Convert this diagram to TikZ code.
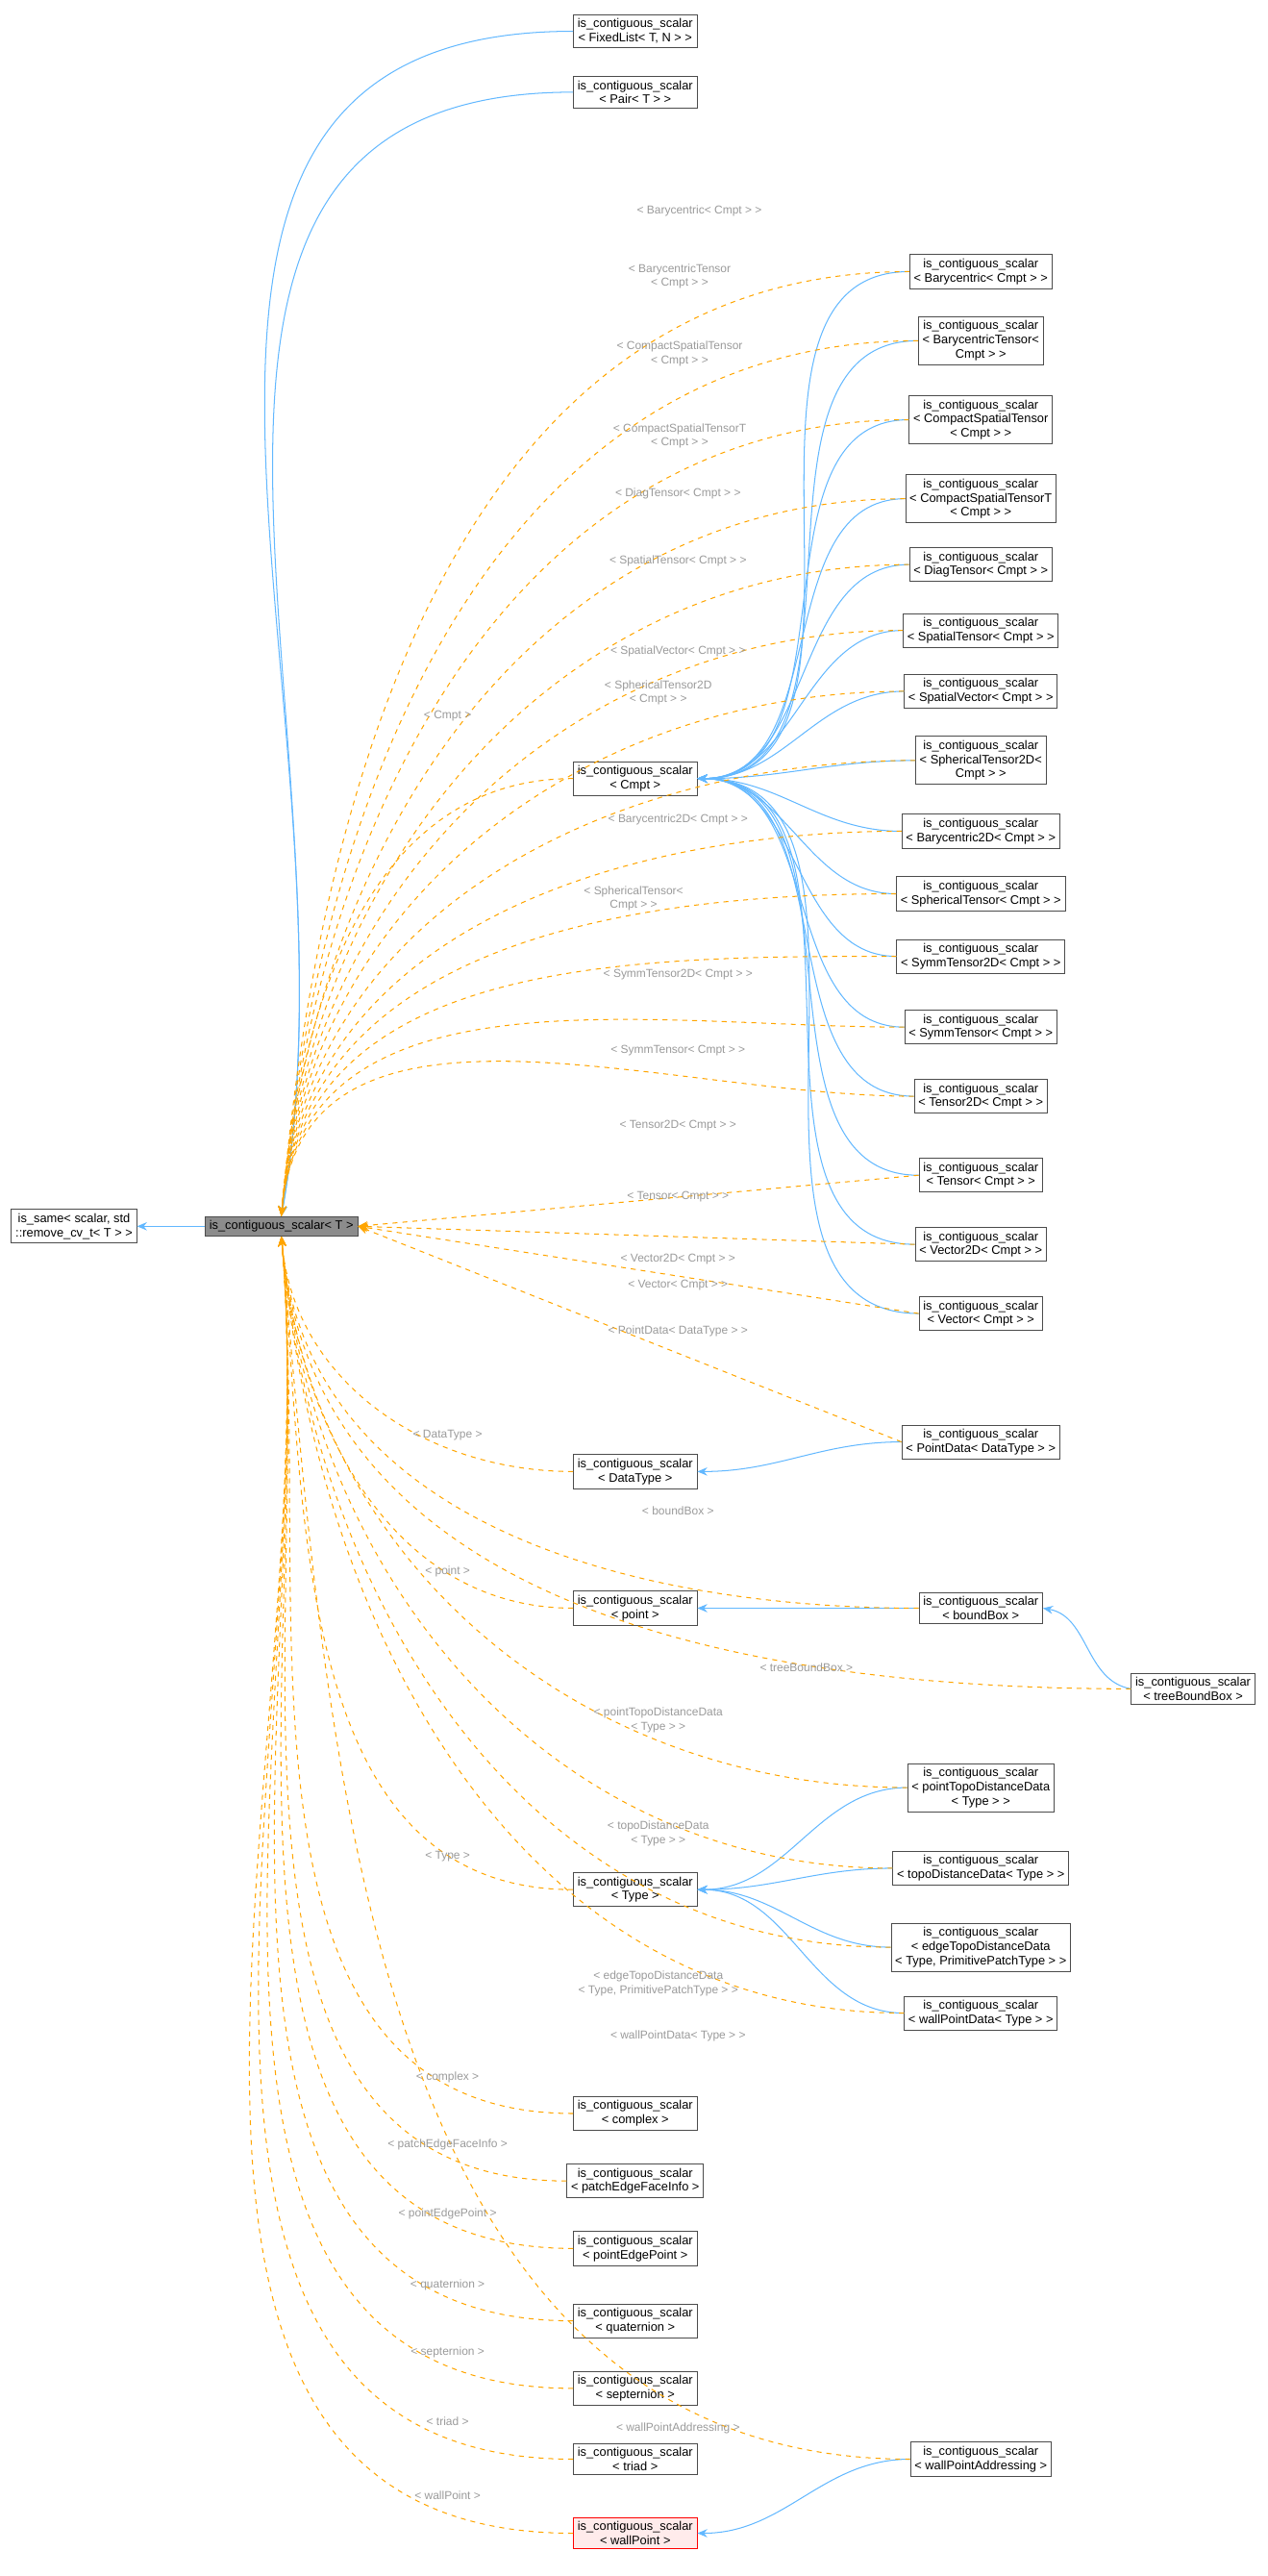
\documentclass[tikz,border=0pt]{standalone}
\usepackage{fontspec}
\setmainfont{Liberation Sans}
\usetikzlibrary{arrows.meta}
\definecolor{edgeblue}{HTML}{63B8FF}
\definecolor{edgeorange}{HTML}{FFA500}
\definecolor{lblgray}{HTML}{9A9A9A}
\begin{document}
\begin{tikzpicture}[x=1pt, y=-1pt,
  box/.style={draw=black!70, fill=white, font=\fontsize{7.5}{8.6}\selectfont, align=center, inner sep=2.5pt, line width=0.5pt},
  redbox/.style={box, draw=red, fill=red!8},
  main/.style={box, fill=black!45},
  lbl/.style={text=lblgray, font=\fontsize{7}{8.4}\selectfont, align=center, inner sep=0pt},
  inh/.style={draw=edgeblue, line width=0.6pt, -{Stealth[length=6pt,width=5pt]}},
  tpl/.style={draw=edgeorange, line width=0.6pt, dashed, -{Stealth[length=6pt,width=5pt]}}]
  \useasboundingbox (0,0) rectangle (770,1565);
  % base nodes
  \node[box] (same) at (45,745) {is\_same< scalar, std\\::remove\_cv\_t< T > >};
  \node[main] (T) at (171,745) {is\_contiguous\_scalar< T >};
  \node[box] (fixed) at (386,19) {is\_contiguous\_scalar\\< FixedList< T, N > >};
  \node[box] (pair) at (386,56) {is\_contiguous\_scalar\\< Pair< T > >};
  \node[box] (cmpt) at (386,473) {is\_contiguous\_scalar\\< Cmpt >};
  \node[box] (datatype) at (386,894) {is\_contiguous\_scalar\\< DataType >};
  \node[box] (point) at (386,977) {is\_contiguous\_scalar\\< point >};
  \node[box] (type) at (386,1148) {is\_contiguous\_scalar\\< Type >};
  \node[box] (complex) at (386,1284) {is\_contiguous\_scalar\\< complex >};
  \node[box] (pefi) at (386,1325) {is\_contiguous\_scalar\\< patchEdgeFaceInfo >};
  \node[box] (pep) at (386,1366) {is\_contiguous\_scalar\\< pointEdgePoint >};
  \node[box] (quat) at (386,1410) {is\_contiguous\_scalar\\< quaternion >};
  \node[box] (sept) at (386,1451) {is\_contiguous\_scalar\\< septernion >};
  \node[box] (triad) at (386,1494) {is\_contiguous\_scalar\\< triad >};
  \node[redbox] (wallpt) at (386,1539) {is\_contiguous\_scalar\\< wallPoint >};
  % Cmpt instances
  \node[box] (bary) at (596,165) {is\_contiguous\_scalar\\< Barycentric< Cmpt > >};
  \node[box] (barytens) at (596,207) {is\_contiguous\_scalar\\< BarycentricTensor<\\Cmpt > >};
  \node[box] (compact) at (596,255) {is\_contiguous\_scalar\\< CompactSpatialTensor\\< Cmpt > >};
  \node[box] (compactT) at (596,303) {is\_contiguous\_scalar\\< CompactSpatialTensorT\\< Cmpt > >};
  \node[box] (diag) at (596,343) {is\_contiguous\_scalar\\< DiagTensor< Cmpt > >};
  \node[box] (spattens) at (596,383) {is\_contiguous\_scalar\\< SpatialTensor< Cmpt > >};
  \node[box] (spatvec) at (596,420) {is\_contiguous\_scalar\\< SpatialVector< Cmpt > >};
  \node[box] (sph2d) at (596,462) {is\_contiguous\_scalar\\< SphericalTensor2D<\\Cmpt > >};
  \node[box] (bary2d) at (596,505) {is\_contiguous\_scalar\\< Barycentric2D< Cmpt > >};
  \node[box] (sph) at (596,543) {is\_contiguous\_scalar\\< SphericalTensor< Cmpt > >};
  \node[box] (symm2d) at (596,581) {is\_contiguous\_scalar\\< SymmTensor2D< Cmpt > >};
  \node[box] (symm) at (596,624) {is\_contiguous\_scalar\\< SymmTensor< Cmpt > >};
  \node[box] (tens2d) at (596,666) {is\_contiguous\_scalar\\< Tensor2D< Cmpt > >};
  \node[box] (tens) at (596,714) {is\_contiguous\_scalar\\< Tensor< Cmpt > >};
  \node[box] (vec2d) at (596,756) {is\_contiguous\_scalar\\< Vector2D< Cmpt > >};
  \node[box] (vec) at (596,798) {is\_contiguous\_scalar\\< Vector< Cmpt > >};
  % other instances
  \node[box] (pointdata) at (596,876) {is\_contiguous\_scalar\\< PointData< DataType > >};
  \node[box] (bbox) at (596,977) {is\_contiguous\_scalar\\< boundBox >};
  \node[box] (tbbox) at (725,1026) {is\_contiguous\_scalar\\< treeBoundBox >};
  \node[box] (ptdd) at (596,1086) {is\_contiguous\_scalar\\< pointTopoDistanceData\\< Type > >};
  \node[box] (tdd) at (596,1135) {is\_contiguous\_scalar\\< topoDistanceData< Type > >};
  \node[box] (etdd) at (596,1183) {is\_contiguous\_scalar\\< edgeTopoDistanceData\\< Type, PrimitivePatchType > >};
  \node[box] (wpd) at (596,1223) {is\_contiguous\_scalar\\< wallPointData< Type > >};
  \node[box] (wpa) at (596,1494) {is\_contiguous\_scalar\\< wallPointAddressing >};

  % inheritance
  \draw[inh] (T) -- (same);
  \draw[inh] (fixed.west) to[out=180,in=80,looseness=1.1] (T.north);
  \draw[inh] (pair.west) to[out=180,in=80,looseness=1.1] (T.north);
  \foreach \n in {bary,barytens,compact,compactT,diag,spattens,spatvec,sph2d,
                  bary2d,sph,symm2d,symm,tens2d,tens,vec2d,vec}
    \draw[inh] (\n.west) to[out=180,in=0] (cmpt.east);
  \draw[inh] (pointdata.west) to[out=180,in=0] (datatype.east);
  \draw[inh] (bbox) -- (point);
  \draw[inh] (tbbox.west) to[out=170,in=-10] (bbox.east);
  \foreach \n in {ptdd,tdd,etdd,wpd}
    \draw[inh] (\n.west) to[out=180,in=0] (type.east);
  \draw[inh] (wpa.west) to[out=180,in=0] (wallpt.east);

  % template instances
  \foreach \n in {bary,barytens,compact,compactT,diag,spattens,spatvec,sph2d,cmpt,bary2d,sph,symm2d,symm,tens2d}
    \draw[tpl] (\n.west) to[out=180,in=85] (T.north);
  \foreach \n in {tens,vec2d,vec,pointdata}
    \draw[tpl] (\n.west) -- (T.east);
  \foreach \n in {datatype,bbox,point,tbbox,ptdd,tdd,type,etdd,wpd,complex,pefi,pep,quat,sept,triad,wpa,wallpt}
    \draw[tpl] (\n.west) to[out=180,in=-85] (T.south);

  % labels
  \node[lbl] (l1) at (425,128) {< Barycentric< Cmpt > >};
  \node[lbl] (l2) at (413,168) {< BarycentricTensor\\< Cmpt > >};
  \node[lbl] (l3) at (413,215) {< CompactSpatialTensor\\< Cmpt > >};
  \node[lbl] (l4) at (413,265) {< CompactSpatialTensorT\\< Cmpt > >};
  \node[lbl] (l5) at (412,300) {< DiagTensor< Cmpt > >};
  \node[lbl] (l6) at (412,341) {< SpatialTensor< Cmpt > >};
  \node[lbl] (l7) at (412,396) {< SpatialVector< Cmpt > >};
  \node[lbl] (l8) at (400,421) {< SphericalTensor2D\\< Cmpt > >};
  \node[lbl] (l9) at (272,435) {< Cmpt >};
  \node[lbl] (l10) at (412,498) {< Barycentric2D< Cmpt > >};
  \node[lbl] (l11) at (385,546) {< SphericalTensor<\\Cmpt > >};
  \node[lbl] (l12) at (412,592) {< SymmTensor2D< Cmpt > >};
  \node[lbl] (l13) at (412,638) {< SymmTensor< Cmpt > >};
  \node[lbl] (l14) at (412,684) {< Tensor2D< Cmpt > >};
  \node[lbl] (l15) at (412,727) {< Tensor< Cmpt > >};
  \node[lbl] (l16) at (412,765) {< Vector2D< Cmpt > >};
  \node[lbl] (l17) at (412,781) {< Vector< Cmpt > >};
  \node[lbl] (l18) at (412,809) {< PointData< DataType > >};
  \node[lbl] (l19) at (272,872) {< DataType >};
  \node[lbl] (l20) at (412,918) {< boundBox >};
  \node[lbl] (l21) at (272,955) {< point >};
  \node[lbl] (l22) at (490,1013) {< treeBoundBox >};
  \node[lbl] (l23) at (400,1045) {< pointTopoDistanceData\\< Type > >};
  \node[lbl] (l24) at (400,1114) {< topoDistanceData\\< Type > >};
  \node[lbl] (l25) at (272,1128) {< Type >};
  \node[lbl] (l26) at (400,1205) {< edgeTopoDistanceData\\< Type, PrimitivePatchType > >};
  \node[lbl] (l27) at (412,1237) {< wallPointData< Type > >};
  \node[lbl] (l28) at (272,1262) {< complex >};
  \node[lbl] (l29) at (272,1303) {< patchEdgeFaceInfo >};
  \node[lbl] (l30) at (272,1345) {< pointEdgePoint >};
  \node[lbl] (l31) at (272,1388) {< quaternion >};
  \node[lbl] (l32) at (272,1429) {< septernion >};
  \node[lbl] (l33) at (272,1471) {< triad >};
  \node[lbl] (l34) at (412,1475) {< wallPointAddressing >};
  \node[lbl] (l35) at (272,1516) {< wallPoint >};
\end{tikzpicture}
\end{document}
